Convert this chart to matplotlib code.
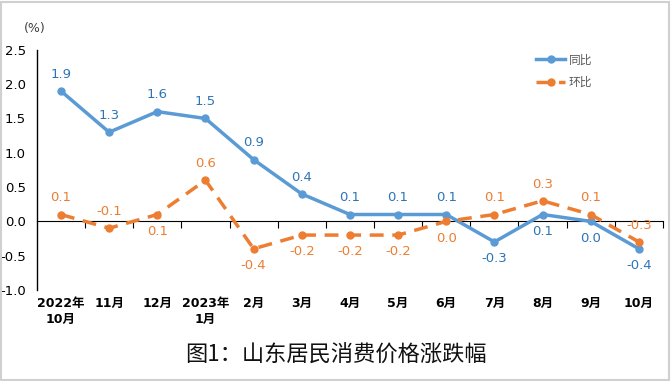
import matplotlib
matplotlib.use('Agg')
import matplotlib.pyplot as plt
from matplotlib.patches import Rectangle

plt.rcParams['font.family'] = ['DejaVu Sans', 'Noto Sans CJK SC']
plt.rcParams['axes.unicode_minus'] = False

# datos
meses = ['2022年\n10月', '11月', '12月', '2023年\n1月', '2月', '3月', '4月',
         '5月', '6月', '7月', '8月', '9月', '10月']
tongbi = [1.9, 1.3, 1.6, 1.5, 0.9, 0.4, 0.1, 0.1, 0.1, -0.3, 0.1, 0.0, -0.4]
huanbi = [0.1, -0.1, 0.1, 0.6, -0.4, -0.2, -0.2, -0.2, 0.0, 0.1, 0.3, 0.1, -0.3]
# posicion de etiquetas: 1 arriba, -1 abajo
pos_tb = [1, 1, 1, 1, 1, 1, 1, 1, 1, -1, -1, -1, -1]
pos_hb = [1, 1, -1, 1, -1, -1, -1, -1, -1, 1, 1, 1, 1]

azul = '#5B9BD5'
azul_txt = '#2E75B6'
naranja = '#ED7D31'

fig = plt.figure(figsize=(6.71, 3.81), dpi=100)
ax = fig.add_axes([0.055, 0.239, 0.933, 0.630])

x = list(range(len(meses)))
ax.plot(x, tongbi, color=azul, lw=2.5, marker='o', ms=5, label='同比', zorder=3)
ax.plot(x, huanbi, color=naranja, lw=2.5, ls=(0, (4, 2.5)), marker='o', ms=5,
        label='环比', zorder=3)

for i in x:
    ax.annotate(f'{tongbi[i]:.1f}', (i, tongbi[i]), xytext=(0, 12 * pos_tb[i]),
                textcoords='offset points', ha='center', va='center',
                fontsize=9.5, color=azul_txt)
    ax.annotate(f'{huanbi[i]:.1f}', (i, huanbi[i]), xytext=(0, 12 * pos_hb[i]),
                textcoords='offset points', ha='center', va='center',
                fontsize=9.5, color=naranja)

ax.set_xlim(-0.5, len(meses) - 0.5)
ax.set_ylim(-1.0, 2.5)
yt = [-1.0, -0.5, 0.0, 0.5, 1.0, 1.5, 2.0, 2.5]
ax.set_yticks(yt)
ax.set_yticklabels([f'{v:.1f}' for v in yt], fontsize=9.5)
ax.tick_params(axis='y', length=0, pad=8)

# eje x en cero con marcas entre categorias
ax.spines['top'].set_visible(False)
ax.spines['right'].set_visible(False)
ax.spines['bottom'].set_position(('data', 0))
ax.spines['left'].set_linewidth(1)
ax.set_xticks([i + 0.5 for i in x])
ax.set_xticklabels([])
ax.tick_params(axis='x', direction='out', length=5)
for i, m in enumerate(meses):
    ax.text(i, -1.1, m, ha='center', va='top', fontsize=9, fontweight='bold',
            transform=ax.transData, linespacing=1.3)

leg = ax.legend(loc='upper left', bbox_to_anchor=(0.78, 1.03), frameon=False,
                fontsize=8.5, handlelength=2.5, labelspacing=0.8, handletextpad=0.3)
for t in leg.get_texts():
    t.set_color('#595959')

fig.text(0.052, 0.925, '(%)', ha='center', va='center', fontsize=9, color='#404040')
fig.text(0.5, 0.068, '图1：山东居民消费价格涨跌幅', ha='center', va='center',
         fontsize=16, family=['Noto Sans CJK SC'], color='#111111')

fig.patches.append(Rectangle((0.002, 0.003), 0.995, 0.993, transform=fig.transFigure,
                             fill=False, edgecolor='#d0d0d0', lw=1.5))

plt.savefig('out.png', dpi=100)
